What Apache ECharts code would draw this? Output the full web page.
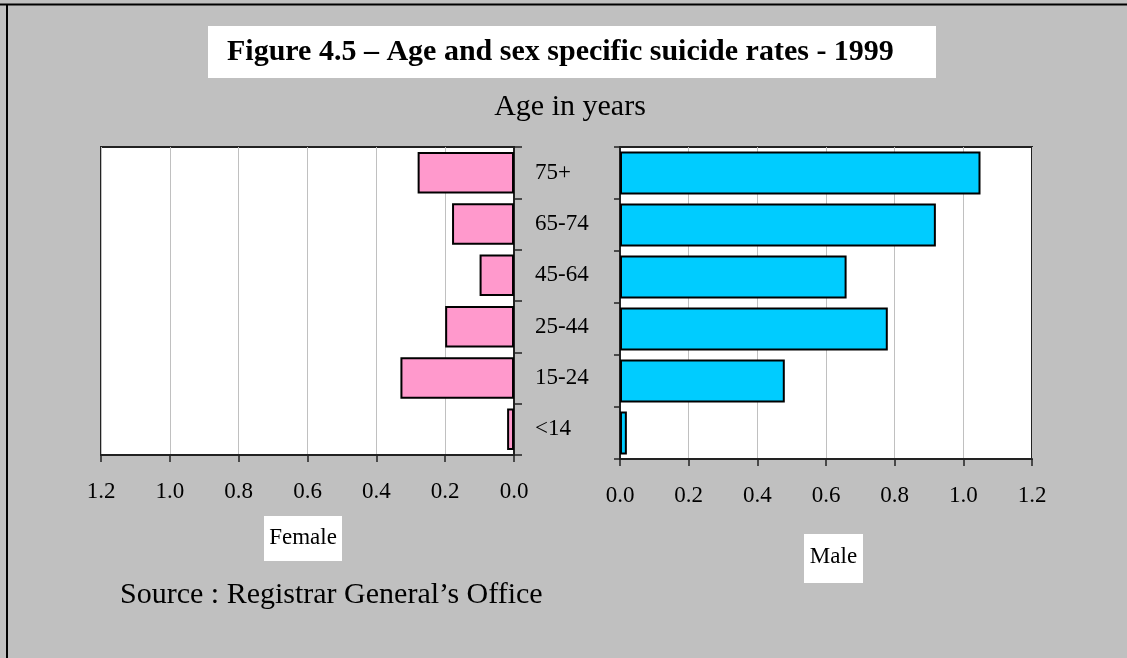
<!DOCTYPE html>
<html>
<head>
<meta charset="utf-8">
<script src="https://cdn.jsdelivr.net/npm/echarts@6/dist/echarts.min.js"></script>
<style>
html,body{margin:0;padding:0;background:#c0c0c0;}
#chart{width:1127px;height:658px;}
</style>
</head>
<body>
<div id="chart"></div>
<script>
// Data (categories listed bottom to top)
var categories = ['<14', '15-24', '25-44', '45-64', '65-74', '75+'];
var femaleRates = [0.02, 0.33, 0.20, 0.10, 0.18, 0.28];
var maleRates = [0.02, 0.48, 0.78, 0.66, 0.92, 1.05];
var rateTicks = { min: 0, max: 1.2, interval: 0.2 };
var titleText = 'Figure 4.5 \u2013 Age and sex specific suicide rates - 1999';
var subTitleText = 'Age in years';
var femaleLabel = 'Female';
var maleLabel = 'Male';
var sourceText = 'Source : Registrar General\u2019s Office';

var FONT = '"Liberation Serif", "Times New Roman", serif';
var chart = echarts.init(document.getElementById('chart'), null, { renderer: 'canvas' });

function fmt(v) { return v.toFixed(1); }

var option = {
  backgroundColor: '#c0c0c0',
  animation: false,
  textStyle: { fontFamily: FONT, color: '#000' },
  grid: [
    { left: 101, top: 147, width: 413, height: 308, show: true, backgroundColor: '#fff', borderColor: '#222', borderWidth: 2, containLabel: false },
    { left: 620, top: 147, width: 412, height: 312, show: true, backgroundColor: '#fff', borderColor: '#222', borderWidth: 2, containLabel: false }
  ],
  xAxis: [
    {
      gridIndex: 0, type: 'value', inverse: true,
      min: rateTicks.min, max: rateTicks.max, interval: rateTicks.interval,
      position: 'bottom',
      axisLine: { show: true, lineStyle: { color: '#222', width: 2 } },
      axisTick: { show: true, length: 7, lineStyle: { color: '#222', width: 1.5 } },
      splitLine: { show: true, lineStyle: { color: '#c0c0c0', width: 1 } },
      axisLabel: { formatter: fmt, margin: 25, fontFamily: FONT, fontSize: 23, color: '#000' }
    },
    {
      gridIndex: 1, type: 'value',
      min: rateTicks.min, max: rateTicks.max, interval: rateTicks.interval,
      position: 'bottom',
      axisLine: { show: true, lineStyle: { color: '#222', width: 2 } },
      axisTick: { show: true, length: 7, lineStyle: { color: '#222', width: 1.5 } },
      splitLine: { show: true, lineStyle: { color: '#c0c0c0', width: 1 } },
      axisLabel: { formatter: fmt, margin: 25, fontFamily: FONT, fontSize: 23, color: '#000' }
    }
  ],
  yAxis: [
    {
      gridIndex: 0, type: 'category', data: categories, position: 'right',
      axisLine: { show: true, lineStyle: { color: '#222', width: 2 } },
      axisTick: { show: true, length: 8, lineStyle: { color: '#222', width: 1.5 } },
      axisLabel: { margin: 21, fontFamily: FONT, fontSize: 23, color: '#000', align: 'left', padding: [6, 0, 0, 0] },
      splitLine: { show: false }
    },
    {
      gridIndex: 1, type: 'category', data: categories, position: 'left',
      axisLine: { show: true, lineStyle: { color: '#222', width: 2 } },
      axisTick: { show: true, length: 6, lineStyle: { color: '#222', width: 1.5 } },
      axisLabel: { show: false },
      splitLine: { show: false }
    }
  ],
  series: [
    {
      name: femaleLabel, type: 'bar', xAxisIndex: 0, yAxisIndex: 0,
      data: femaleRates, barCategoryGap: '19%',
      itemStyle: { color: '#ff99cc', borderColor: '#000', borderWidth: 2 }
    },
    {
      name: maleLabel, type: 'bar', xAxisIndex: 1, yAxisIndex: 1,
      data: maleRates, barCategoryGap: '17%',
      itemStyle: { color: '#00ccff', borderColor: '#000', borderWidth: 2 }
    }
  ],
  graphic: [
    { type: 'line', shape: { x1: 0, y1: 4.5, x2: 1127, y2: 4.5 }, style: { stroke: '#000', lineWidth: 2 } },
    { type: 'line', shape: { x1: 7, y1: 4, x2: 7, y2: 658 }, style: { stroke: '#000', lineWidth: 2 } },
    { type: 'rect', shape: { x: 208, y: 26, width: 728, height: 52 }, style: { fill: '#fff' } },
    { type: 'text', x: 227, y: 52, style: { text: titleText, font: 'bold 30px ' + FONT, fill: '#000', textAlign: 'left', textVerticalAlign: 'middle' } },
    { type: 'text', x: 570, y: 107, style: { text: subTitleText, font: '30px ' + FONT, fill: '#000', textAlign: 'center', textVerticalAlign: 'middle' } },
    { type: 'rect', shape: { x: 264, y: 516, width: 78, height: 45 }, style: { fill: '#fff' } },
    { type: 'text', x: 303, y: 538, style: { text: femaleLabel, font: '23px ' + FONT, fill: '#000', textAlign: 'center', textVerticalAlign: 'middle' } },
    { type: 'rect', shape: { x: 804, y: 534, width: 59, height: 49 }, style: { fill: '#fff' } },
    { type: 'text', x: 833.5, y: 557, style: { text: maleLabel, font: '23px ' + FONT, fill: '#000', textAlign: 'center', textVerticalAlign: 'middle' } },
    { type: 'text', x: 120, y: 595, style: { text: sourceText, font: '30px ' + FONT, fill: '#000', textAlign: 'left', textVerticalAlign: 'middle' } }
  ]
};
chart.setOption(option);
</script>
</body>
</html>
